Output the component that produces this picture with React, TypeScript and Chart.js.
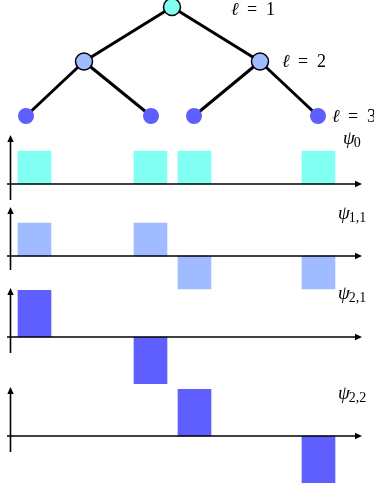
import React, { useEffect, useRef } from 'react';
import { Chart, registerables } from 'chart.js';

Chart.register(...registerables);

// ---- data ----
const treeLevels = [1, 2, 3];
const treeNodeX = [[172], [84, 260], [26, 151, 194, 318]];
const levelColors = ['#80FFF2', '#A0BBFF', '#5F5FFF'];

const supportX = [34.5, 150.5, 194.5, 318.5];
const psiSubs = ['0', '1,1', '2,1', '2,2'];
const psi0 = [0.5, 0.5, 0.5, 0.5];
const psi11 = [0.5, 0.5, -0.5, -0.5];
const psi21 = [0.707, -0.707, 0, 0];
const psi22 = [0, 0, 0.707, -0.707];
const psiValues = [psi0, psi11, psi21, psi22];
const psiColorIdx = [0, 1, 2, 2];

// ---- layout ----
const W = 374;
const H = 488;
const zeroPx = [184, 256, 337, 436];
const pxPerUnit = 66;
const level1Px = 7;
const level3Px = 116;
const pxPerLevel = (level3Px - level1Px) / 2;
const psiLabelPos = [
  { x: 343, y: 144 },
  { x: 338, y: 219 },
  { x: 338, y: 299 },
  { x: 338, y: 399 },
];
const levelLabelPos = [
  { x: 231, y: 15 },
  { x: 282, y: 67 },
  { x: 332, y: 122 },
];

const serif = '"Liberation Serif", "DejaVu Serif", serif';

function arrow(ctx: CanvasRenderingContext2D, x: number, y: number, dir: 'up' | 'right') {
  ctx.beginPath();
  if (dir === 'right') {
    ctx.moveTo(x, y);
    ctx.lineTo(x - 7, y - 3.2);
    ctx.lineTo(x - 7, y + 3.2);
  } else {
    ctx.moveTo(x, y);
    ctx.lineTo(x - 3.2, y + 7);
    ctx.lineTo(x + 3.2, y + 7);
  }
  ctx.closePath();
  ctx.fill();
}

const decorPlugin = {
  id: 'decor',
  afterDatasetsDraw(chart: any) {
    const ctx: CanvasRenderingContext2D = chart.ctx;
    const xs = chart.scales.x;
    ctx.save();
    ctx.strokeStyle = '#000';
    ctx.fillStyle = '#000';
    ctx.lineWidth = 1.6;
    psiValues.forEach((_, k) => {
      const ys = chart.scales['p' + k];
      const z = ys.getPixelForValue(0);
      const ax = xs.getPixelForValue(10.5);
      const x0 = xs.getPixelForValue(7);
      const x1 = xs.getPixelForValue(362);
      // horizontal axis
      ctx.beginPath();
      ctx.moveTo(x0, z);
      ctx.lineTo(x1 - 5, z);
      ctx.stroke();
      arrow(ctx, x1, z, 'right');
      // vertical axis
      const top = z - 49;
      ctx.beginPath();
      ctx.moveTo(ax, z + (k === 1 ? 14 : 16));
      ctx.lineTo(ax, top + 5);
      ctx.stroke();
      arrow(ctx, ax, top, 'up');
      // label
      const p = psiLabelPos[k];
      ctx.font = `italic 19px ${serif}`;
      ctx.textBaseline = 'alphabetic';
      ctx.textAlign = 'left';
      ctx.fillText('ψ', p.x, p.y);
      const w = ctx.measureText('ψ').width;
      ctx.font = `14px ${serif}`;
      ctx.fillText(psiSubs[k], p.x + w - 1, p.y + 3);
    });
    // level labels
    levelLabelPos.forEach((p, i) => {
      ctx.font = `italic 18px ${serif}`;
      ctx.fillText('ℓ', p.x, p.y);
      ctx.font = `18px ${serif}`;
      ctx.fillText('=', p.x + 16, p.y);
      ctx.fillText(String(treeLevels[i]), p.x + 35, p.y);
    });
    ctx.restore();
  },
};

export default function App() {
  const ref = useRef<HTMLCanvasElement | null>(null);

  useEffect(() => {
    document.body.style.margin = '0';
    const canvas = ref.current;
    if (!canvas) return;

    const datasets: any[] = [];
    // tree edges
    for (let l = 0; l < treeLevels.length - 1; l++) {
      treeNodeX[l].forEach((px, i) => {
        [2 * i, 2 * i + 1].forEach((c) => {
          datasets.push({
            type: 'line',
            data: [
              { x: px, y: treeLevels[l] },
              { x: treeNodeX[l + 1][c], y: treeLevels[l + 1] },
            ],
            borderColor: '#000',
            borderWidth: 3,
            pointRadius: 0,
            yAxisID: 'tree',
            order: 3,
          });
        });
      });
    }
    // tree nodes
    treeLevels.forEach((lv, l) => {
      datasets.push({
        type: 'line',
        showLine: false,
        data: treeNodeX[l].map((x) => ({ x, y: lv })),
        pointRadius: l === 0 ? 8.5 : l === 1 ? 8.5 : 8,
        pointBackgroundColor: levelColors[l],
        pointBorderColor: '#000',
        pointBorderWidth: l < 2 ? 1.5 : 0,
        yAxisID: 'tree',
        order: 0,
      });
    });
    // wavelet bars
    psiValues.forEach((vals, k) => {
      datasets.push({
        type: 'bar',
        data: supportX
          .map((x, i) => ({ x, y: vals[i] }))
          .filter((d) => d.y !== 0),
        backgroundColor: levelColors[psiColorIdx[k]],
        borderWidth: 0,
        barThickness: 33,
        grouped: false,
        yAxisID: 'p' + k,
        order: 2,
      });
    });

    const scales: any = {
      x: { type: 'linear', min: 0, max: W, display: false, offset: false, bounds: 'data' },
      tree: {
        type: 'linear',
        position: 'left',
        reverse: true,
        display: false,
        bounds: 'data',
        min: 1 - level1Px / pxPerLevel,
        max: 1 + (H - level1Px) / pxPerLevel,
      },
    };
    zeroPx.forEach((z, k) => {
      scales['p' + k] = {
        type: 'linear',
        position: 'left',
        display: false,
        bounds: 'data',
        min: -(H - z) / pxPerUnit,
        max: z / pxPerUnit,
      };
    });

    const chart = new Chart(canvas, {
      type: 'line',
      data: { datasets },
      options: {
        animation: false,
        responsive: false,
        devicePixelRatio: 1,
        layout: { padding: 0, autoPadding: false },
        plugins: { legend: { display: false }, tooltip: { enabled: false } },
        events: [],
        scales,
      } as any,
      plugins: [decorPlugin],
    });
    return () => chart.destroy();
  }, []);

  return (
    <div style={{ width: W, height: H, background: '#fff' }}>
      <canvas ref={ref} width={W} height={H} style={{ display: 'block', width: W, height: H }} />
    </div>
  );
}
